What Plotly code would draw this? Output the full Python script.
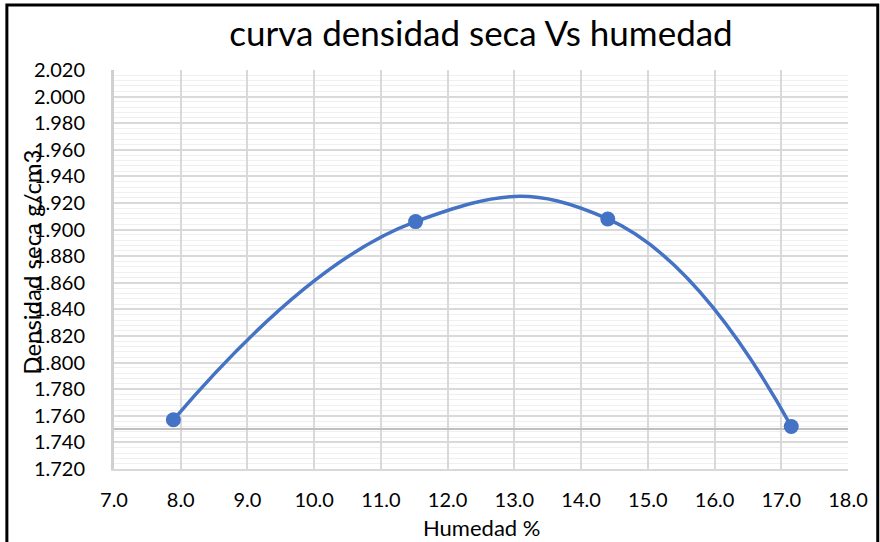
import plotly.graph_objects as go

humedad = [7.89, 11.52, 14.40, 17.15]
densidad = [1.757, 1.906, 1.908, 1.752]
ref_line = 1.750
x_ticks = [7, 8, 9, 10, 11, 12, 13, 14, 15, 16, 17, 18]
y_ticks = [1.72 + 0.02 * i for i in range(16)]

FONT = "Lato, Carlito, Calibri, sans-serif"
L, R, T, B = 114, 26, 70, 73
W, H = 880, 542
pw, ph = W - L - R, H - T - B

fig = go.Figure()
fig.add_trace(go.Scatter(
    x=[7, 18], y=[ref_line, ref_line], mode="lines",
    line=dict(color="#bfbfbf", width=2), hoverinfo="skip", showlegend=False))
fig.add_trace(go.Scatter(
    x=humedad, y=densidad, mode="lines+markers",
    line=dict(color="#4472C4", width=3.5, shape="spline", smoothing=1.3),
    marker=dict(color="#4472C4", size=15),
    showlegend=False))

def px_x(p):
    return (p - L) / pw

def px_y(p):
    return (H - B - p) / ph

fig.update_layout(
    width=W, height=H,
    margin=dict(l=L, r=R, t=T, b=B),
    paper_bgcolor="white", plot_bgcolor="white",
    font=dict(family=FONT, size=20, color="#000000"),
    title=dict(text="curva densidad seca Vs humedad", xref="container", x=481 / W,
               xanchor="center", yref="container", y=1 - 34 / H, yanchor="middle",
               font=dict(size=35, family=FONT, color="#000")),
    xaxis=dict(range=[7, 18], tickvals=x_ticks,
               ticktext=[f"{v:.1f}" for v in x_ticks],
               showgrid=True, gridcolor="#d9d9d9", gridwidth=2,
               showline=True, linecolor="#d9d9d9", linewidth=2,
               zeroline=False, ticks="", ticklabelstandoff=12,
               tickfont=dict(size=20, family=FONT)),
    yaxis=dict(range=[1.72, 2.02], tickvals=y_ticks,
               ticktext=[f"{v:.3f}" for v in y_ticks],
               showgrid=True, gridcolor="#d9d9d9", gridwidth=2,
               showline=True, linecolor="#d0d0d0", linewidth=3,
               zeroline=False, ticks="", ticklabelstandoff=22,
               minor=dict(dtick=0.004, showgrid=True, gridcolor="#efefef", gridwidth=1),
               tickfont=dict(size=20, family=FONT)),
    annotations=[
        dict(text="Humedad %", xref="paper", yref="paper", x=px_x(484), y=px_y(527),
             xanchor="center", yanchor="middle", showarrow=False,
             font=dict(size=22, family=FONT)),
        dict(text="Densidad seca g/cm3", xref="paper", yref="paper", x=px_x(30), y=px_y(262),
             xanchor="center", yanchor="middle", showarrow=False, textangle=-90,
             font=dict(size=24, family=FONT)),
    ],
    shapes=[dict(type="rect", xref="paper", yref="paper",
                 x0=px_x(6), x1=px_x(884), y0=px_y(548), y1=px_y(5),
                 line=dict(color="black", width=3), layer="above")],
)
fig.write_html("out.html")
